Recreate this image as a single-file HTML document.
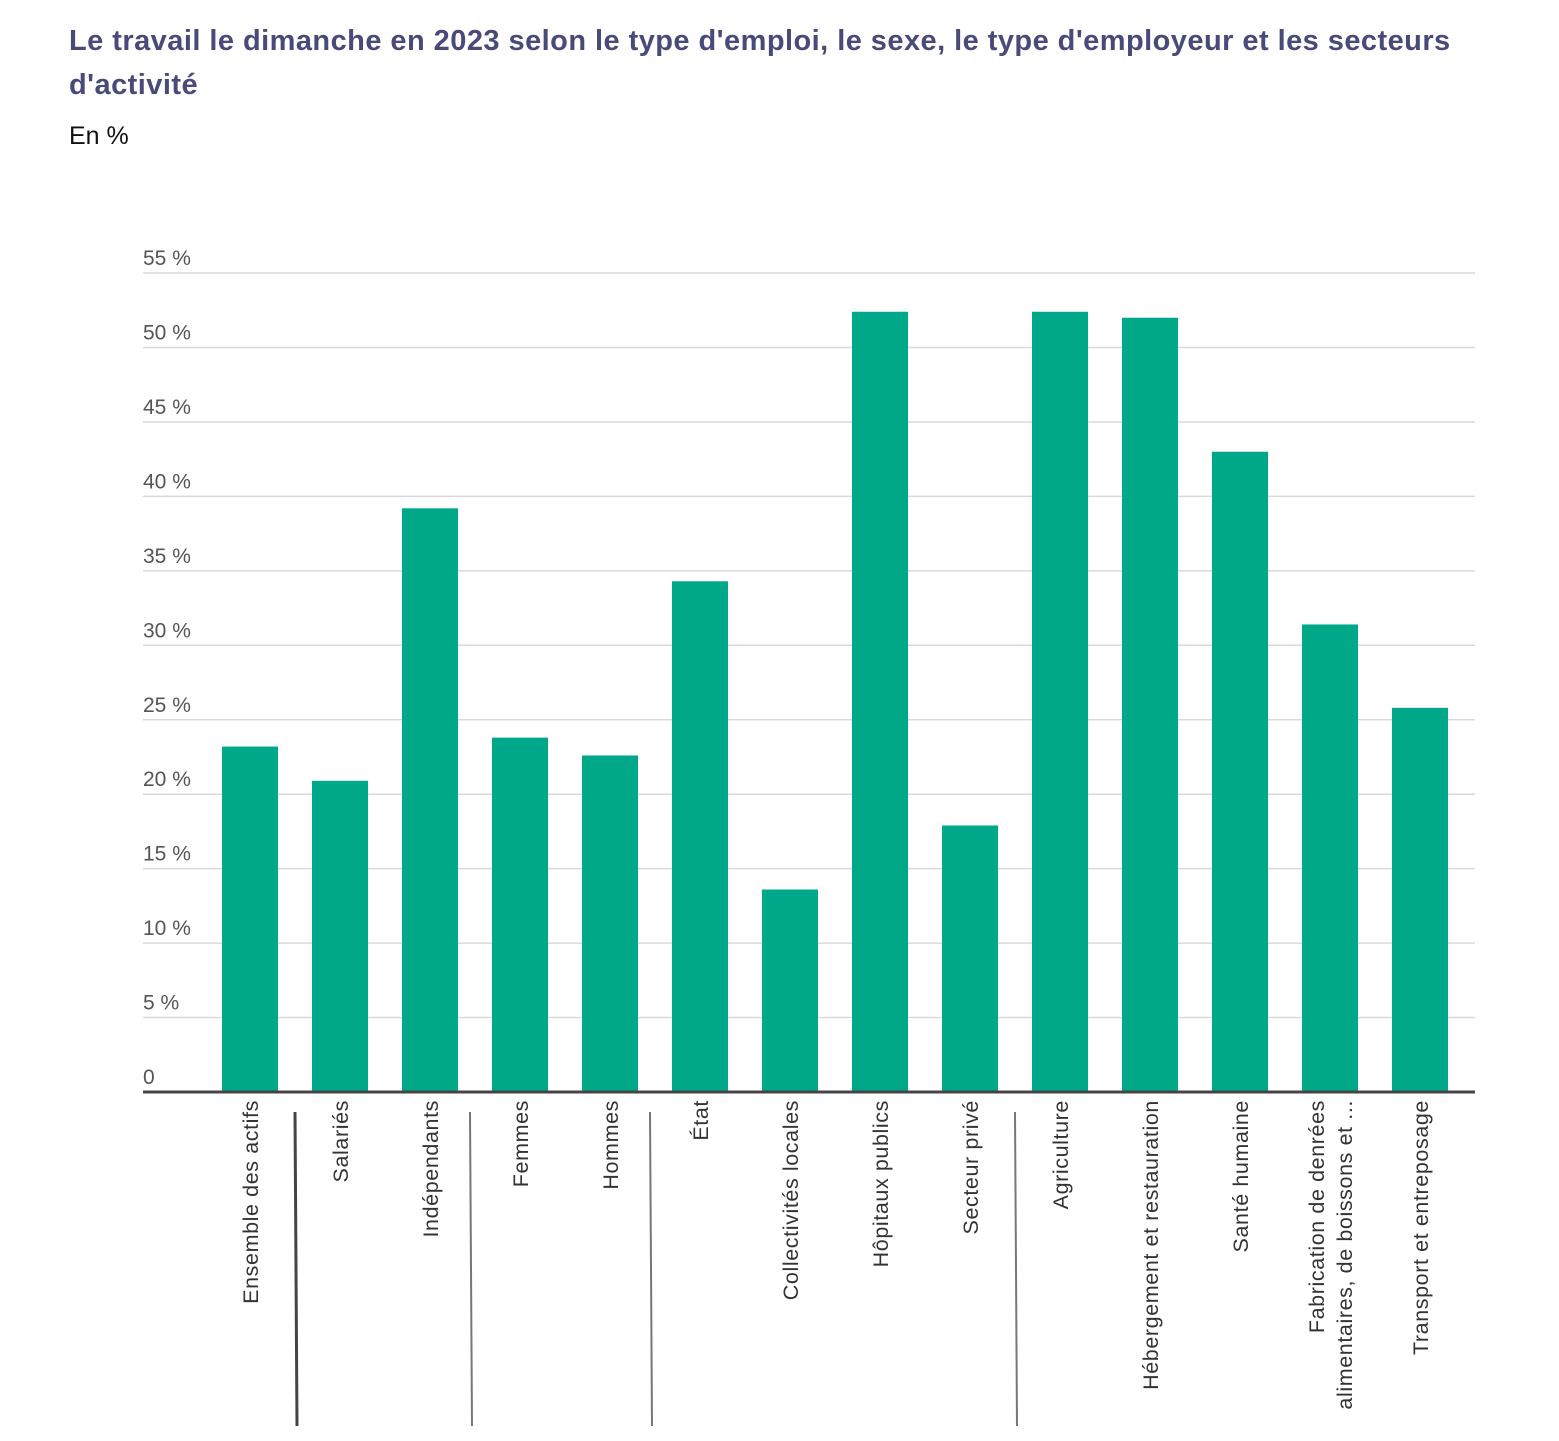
<!DOCTYPE html>
<html><head><meta charset="utf-8">
<style>
body{margin:0;width:1559px;height:1441px;background:#fff;overflow:hidden;font-family:"Liberation Sans",sans-serif}
#title{position:absolute;left:69px;top:19px;width:1480px;font-size:29px;line-height:44px;font-weight:bold;color:#484b7a;letter-spacing:0.45px}
#sub{position:absolute;left:69px;top:122px;font-size:25px;color:#111}
svg{position:absolute;left:0;top:0}
</style></head>
<body>
<div id="title">Le travail le dimanche en 2023 selon le type d'emploi, le sexe, le type d'employeur et les secteurs<br>d'activité</div>
<div id="sub">En %</div>
<svg id="chart" width="1559" height="1441"></svg>
<script>
const categories=["Ensemble des actifs","Salariés","Indépendants","Femmes","Hommes","État","Collectivités locales","Hôpitaux publics","Secteur privé","Agriculture","Hébergement et restauration","Santé humaine","Fabrication de denrées|alimentaires, de boissons et ...","Transport et entreposage"];
const values=[23.2,20.9,39.2,23.8,22.6,34.3,13.6,52.4,17.9,52.4,52.0,43.0,31.4,25.8];
const tickValues=[0,5,10,15,20,25,30,35,40,45,50,55];
const tickLabels=["0","5 %","10 %","15 %","20 %","25 %","30 %","35 %","40 %","45 %","50 %","55 %"];
const separatorsAfter=[0,2,4,8];
const svg=document.getElementById('chart');const NS="http://www.w3.org/2000/svg";
const y0=1092,pxPer=14.89,left=143,right=1475,bandStart=205,step=90,barW=56;
const y=v=>y0-v*pxPer;const xc=i=>bandStart+step/2+i*step;
function mk(t,a){const e=document.createElementNS(NS,t);for(const k in a)e.setAttribute(k,a[k]);svg.appendChild(e);return e;}
tickValues.forEach((v,i)=>{
 if(v>0){const g=mk('line',{x1:left,x2:right,y1:y(v),y2:y(v),stroke:'#d9d9d9','stroke-width':1.5});
 
 }
 const t=mk('text',{x:left,y:y(v)-8,'font-size':21,fill:'#555'});t.textContent=tickLabels[i];
 
 
});
values.forEach((v,i)=>{
 const r=mk('rect',{x:xc(i)-barW/2,y:y(v),width:barW,height:y0-y(v),fill:'#00a88a'});
 
 
 const lines=categories[i].split('|');
 lines.forEach((s,j)=>{
  const lx=xc(i)+8+(j-(lines.length-1)/2)*28;
  const t=mk('text',{x:0,y:0,transform:`translate(${lx},1100) rotate(-90)`,'text-anchor':'end','font-size':21.5,fill:'#333','letter-spacing':'0.6px'});
  t.textContent=s;
  
  
 });
});
const ax=mk('line',{x1:left,x2:right,y1:y0,y2:y0,stroke:'#444','stroke-width':3});


separatorsAfter.forEach((k,i)=>{
 const sx=bandStart+(k+1)*step-(i==1||i==2?5:0);
 const l=mk('line',{x1:sx,x2:sx+2,y1:1112,y2:1426,stroke:i==0?'#444':'#777','stroke-width':i==0?3:2});
 
 
});
</script>
</body></html>
